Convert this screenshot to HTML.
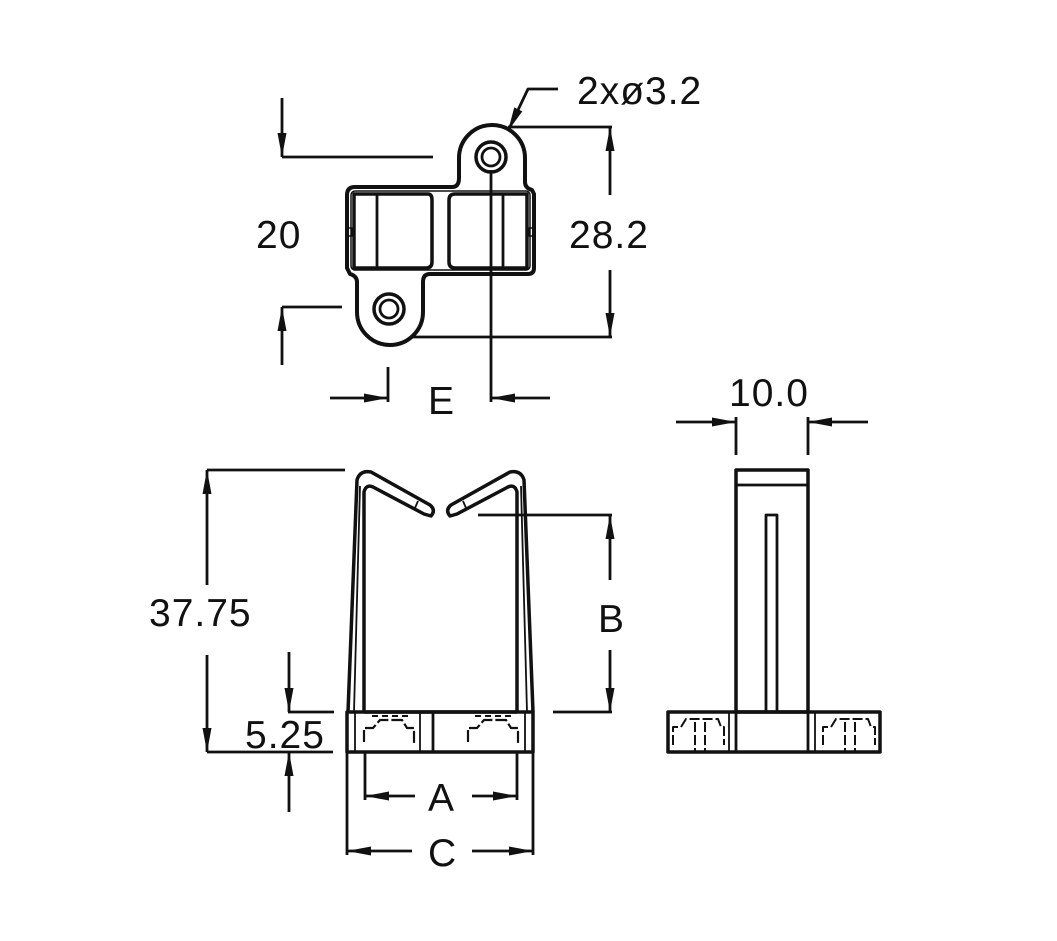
<!DOCTYPE html>
<html><head><meta charset="utf-8"><style>
html,body{margin:0;padding:0;background:#fff;}
svg{display:block}
text{font-family:"Liberation Sans",sans-serif;font-size:39px;fill:#111;letter-spacing:1px}
</style></head><body>
<svg width="1057" height="941" viewBox="0 0 1057 941" xmlns="http://www.w3.org/2000/svg">
<defs>
<marker id="a" viewBox="0 0 24 9" refX="24" refY="4.5" markerWidth="24" markerHeight="9" markerUnits="userSpaceOnUse" orient="auto"><path d="M0,0 L24,4.5 L0,9 Z" fill="#111"/></marker>
</defs>
<g stroke="#111" fill="none" stroke-width="2.8" stroke-linejoin="round">
<!-- TOP VIEW -->
<path d="M355,187 L452,187 Q459,187 459,178 L459,158 A33,33 0 0 1 525,158 L525,182 Q525,188 532,190 L534,194 L534,268 Q534,274 528,274 L430,274 Q423,274 423,282 L423,312 A33,33 0 0 1 357,312 L357,282 Q357,276 350,274 L347,268 L347,195 Q347,187 355,187 Z" stroke-width="4"/>
<rect x="351" y="191" width="179" height="79" rx="4" stroke-width="1.5"/>
<path d="M354,194 L428,194 Q432,194 432,200 L432,262 Q432,268 426,268 L354,268 Z" stroke-width="3.5"/>
<line x1="377" y1="194" x2="377" y2="268"/>
<path d="M527,194 L455,194 Q449,194 449,200 L449,262 Q449,268 455,268 L527,268 Z" stroke-width="3.5"/>
<line x1="503" y1="194" x2="503" y2="268"/>
<rect x="348" y="228" width="4" height="8" stroke-width="1.5"/>
<rect x="529" y="228" width="4" height="8" stroke-width="1.5"/>
<circle cx="491" cy="157" r="15" stroke-width="3.5"/>
<circle cx="491" cy="157" r="9" stroke-width="2.8"/>
<circle cx="389" cy="309" r="15" stroke-width="3.5"/>
<circle cx="389" cy="309" r="9" stroke-width="2.8"/>
<!-- dim 20 -->
<line x1="282" y1="98" x2="282" y2="157" marker-end="url(#a)"/>
<line x1="282" y1="157" x2="433" y2="157"/>
<line x1="282" y1="365" x2="282" y2="307" marker-end="url(#a)"/>
<line x1="282" y1="307" x2="342" y2="307"/>
<!-- 28.2 -->
<line x1="508" y1="127" x2="612" y2="127"/>
<line x1="410" y1="337" x2="612" y2="337"/>
<line x1="610" y1="195" x2="610" y2="127" marker-end="url(#a)"/>
<line x1="610" y1="270" x2="610" y2="337" marker-end="url(#a)"/>
<!-- leader -->
<polyline points="558,89 528,89 508,131" marker-end="url(#a)"/>
<!-- E -->
<line x1="491" y1="170" x2="491" y2="402"/>
<line x1="388" y1="367" x2="388" y2="402"/>
<line x1="330" y1="398" x2="388" y2="398" marker-end="url(#a)"/>
<line x1="550" y1="398" x2="491" y2="398" marker-end="url(#a)"/>
<!-- 10.0 -->
<line x1="736" y1="417" x2="736" y2="455"/>
<line x1="808" y1="417" x2="808" y2="455"/>
<line x1="676" y1="422" x2="736" y2="422" marker-end="url(#a)"/>
<line x1="868" y1="422" x2="808" y2="422" marker-end="url(#a)"/>

<!-- FRONT VIEW -->
<path d="M348,712 L357,480 Q360,470 371,472 L430,505 Q436,510 431,516 L424,514 L373,487 Q366,484 364,492 L364,712" stroke-width="3.5"/>
<path d="M354,712 L360,486" stroke-width="1.8"/>
<path d="M533,712 L524,480 Q521,470 510,472 L451,505 Q445,510 450,516 L457,514 L508,487 Q515,484 517,492 L517,712" stroke-width="3.5"/>
<path d="M527,712 L521,486" stroke-width="1.8"/>
<line x1="418" y1="501" x2="415" y2="508" stroke-width="1.8"/>
<line x1="463" y1="501" x2="466" y2="508" stroke-width="1.8"/>
<line x1="364" y1="712" x2="517" y2="712" stroke-width="3.5"/>
<rect x="347" y="712" width="186" height="40" stroke-width="3.5"/>
<line x1="355" y1="712" x2="355" y2="752" stroke-width="1.8"/>
<line x1="525" y1="712" x2="525" y2="752" stroke-width="1.8"/>
<line x1="420" y1="712" x2="420" y2="752" stroke-width="1.8"/>
<line x1="433" y1="712" x2="433" y2="752" stroke-width="2.8"/>
<path d="M364,742 L364,728 L373,728 L380,720 L402,720 L407,728 L414,728 L414,745" stroke-width="2.2" stroke-dasharray="12,3"/>
<path d="M468,742 L468,728 L477,728 L484,720 L506,720 L511,728 L518,728 L518,745" stroke-width="2.2" stroke-dasharray="12,3"/>
<path d="M372,716 L410,716 M475,716 L512,716" stroke-width="2" stroke-dasharray="6,4"/>
<!-- 37.75 -->
<line x1="207" y1="470" x2="345" y2="470"/>
<line x1="207" y1="752" x2="333" y2="752"/>
<line x1="207" y1="585" x2="207" y2="470" marker-end="url(#a)"/>
<line x1="207" y1="655" x2="207" y2="752" marker-end="url(#a)"/>
<!-- 5.25 -->
<line x1="288" y1="712" x2="334" y2="712"/>
<line x1="289" y1="652" x2="289" y2="712" marker-end="url(#a)"/>
<line x1="289" y1="812" x2="289" y2="752" marker-end="url(#a)"/>
<!-- B -->
<line x1="478" y1="515" x2="612" y2="515"/>
<line x1="553" y1="712" x2="612" y2="712"/>
<line x1="610" y1="580" x2="610" y2="515" marker-end="url(#a)"/>
<line x1="610" y1="650" x2="610" y2="712" marker-end="url(#a)"/>
<!-- A -->
<line x1="365" y1="752" x2="365" y2="800"/>
<line x1="517" y1="752" x2="517" y2="800"/>
<line x1="415" y1="796" x2="365" y2="796" marker-end="url(#a)"/>
<line x1="472" y1="796" x2="517" y2="796" marker-end="url(#a)"/>
<!-- C -->
<line x1="347" y1="752" x2="347" y2="855"/>
<line x1="533" y1="752" x2="533" y2="855"/>
<line x1="412" y1="851" x2="347" y2="851" marker-end="url(#a)"/>
<line x1="472" y1="851" x2="533" y2="851" marker-end="url(#a)"/>

<!-- SIDE VIEW -->
<rect x="736" y="470" width="72" height="242" stroke-width="3.5"/>
<line x1="736" y1="485" x2="808" y2="485"/>
<rect x="766" y="515" width="11" height="197" stroke-width="2.8"/>
<rect x="668" y="712" width="212" height="40" stroke-width="3.5"/>
<line x1="736" y1="712" x2="736" y2="752" stroke-width="2.8"/>
<line x1="729" y1="712" x2="729" y2="752" stroke-width="1.8"/>
<line x1="808" y1="712" x2="808" y2="752" stroke-width="2.8"/>
<line x1="815" y1="712" x2="815" y2="752" stroke-width="1.8"/>
<path d="M673,745 L673,727 L681,727 L686,719 L718,719 L721,727 L724,727 L724,745 M695,722 L695,752 M705,722 L705,752" stroke-width="2" stroke-dasharray="10,3"/>
<path d="M823,745 L823,727 L831,727 L836,719 L868,719 L871,727 L875,727 L875,745 M845,722 L845,752 M855,722 L855,752" stroke-width="2" stroke-dasharray="10,3"/>
</g>
<g>
<text x="577" y="104">2xø3.2</text>
<text x="256" y="248">20</text>
<text x="569" y="248">28.2</text>
<text x="428" y="414">E</text>
<text x="729" y="406">10.0</text>
<text x="149" y="626">37.75</text>
<text x="598" y="632">B</text>
<text x="245" y="748">5.25</text>
<text x="428" y="811">A</text>
<text x="428" y="866">C</text>
</g>
</svg>
</body></html>
